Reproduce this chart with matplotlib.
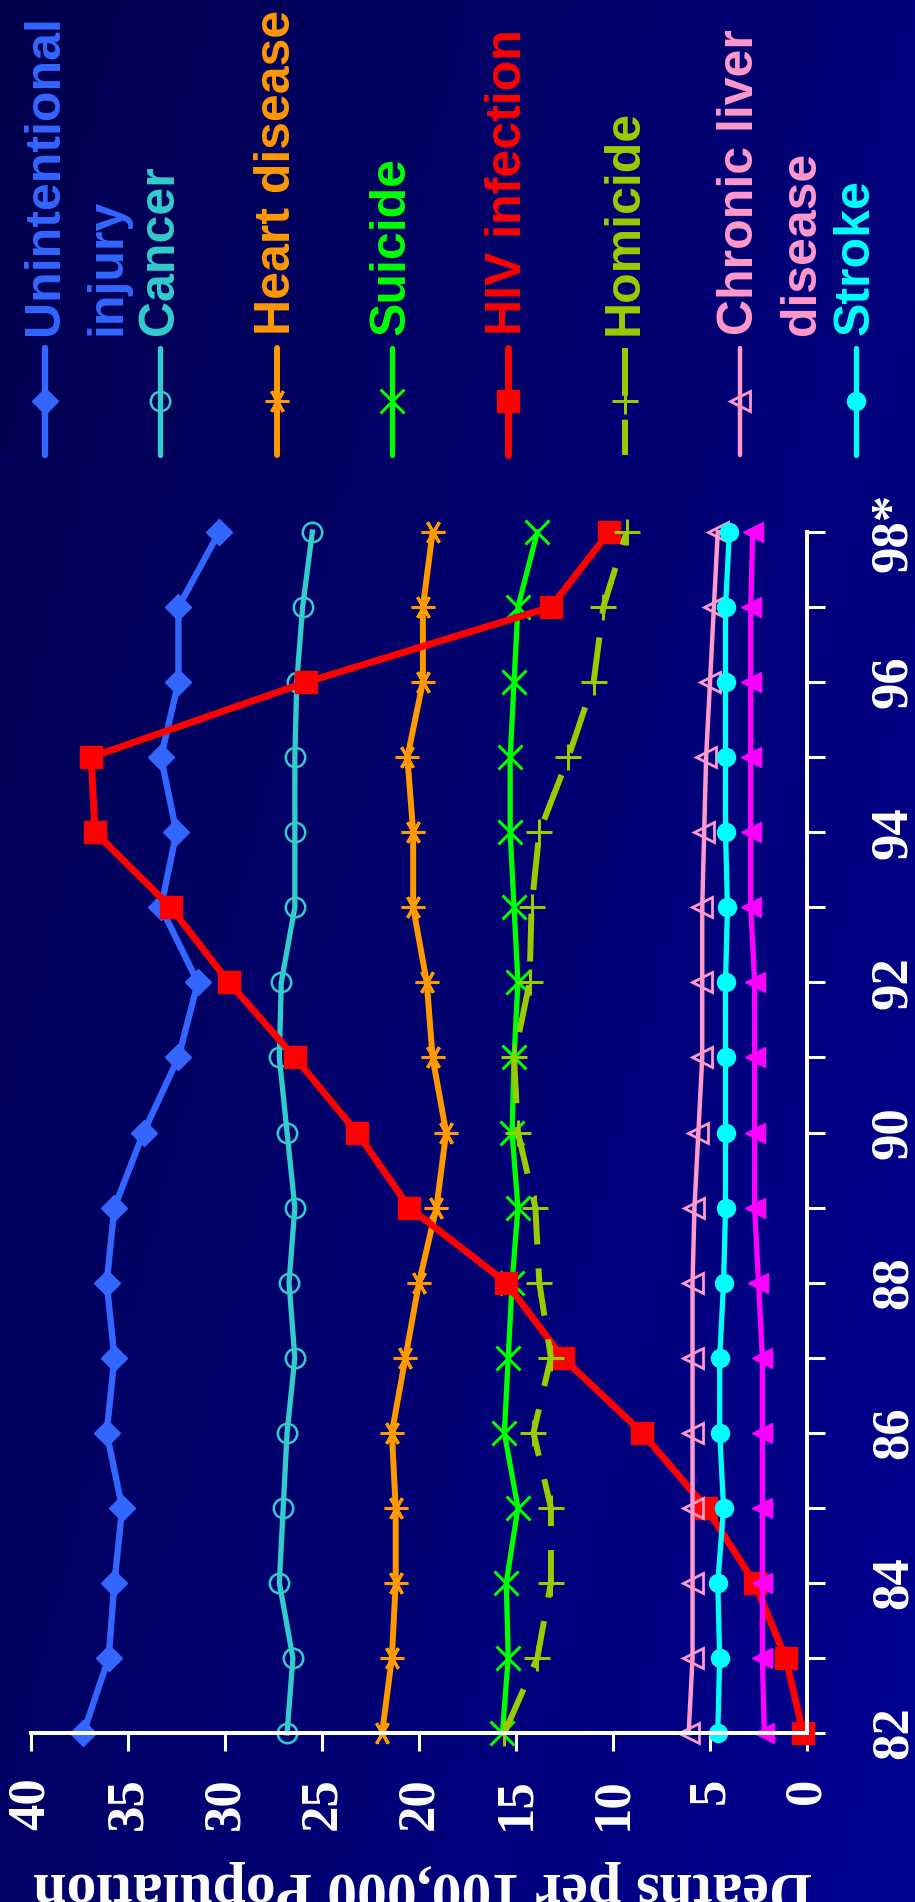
import numpy as np
import matplotlib
matplotlib.use("Agg")
import matplotlib.pyplot as plt

# ---- data -------------------------------------------------------------
years = list(range(82, 99))
year_tick_labels = ["82", "84", "86", "88", "90", "92", "94", "96", "98*"]
value_ticks = [0, 5, 10, 15, 20, 25, 30, 35, 40]

injury = [37.3, 36.0, 35.7, 35.3, 36.1, 35.7, 36.1, 35.7, 34.2, 32.4, 31.4, 33.3, 32.5, 33.3, 32.4, 32.4, 30.3]
cancer = [26.8, 26.5, 27.2, 27.0, 26.8, 26.4, 26.7, 26.4, 26.8, 27.2, 27.1, 26.4, 26.4, 26.4, 26.3, 26.0, 25.5]
heart = [21.9, 21.4, 21.2, 21.2, 21.4, 20.7, 20.0, 19.1, 18.6, 19.3, 19.6, 20.3, 20.3, 20.6, 19.8, 19.8, 19.3]
suicide = [15.7, 15.4, 15.5, 14.9, 15.6, 15.4, 15.2, 14.9, 15.2, 15.1, 14.9, 15.1, 15.3, 15.3, 15.1, 14.9, 13.9]
hiv = [0.2, 1.1, 2.7, 5.2, 8.5, 12.6, 15.5, 20.5, 23.2, 26.4, 29.8, 32.8, 36.7, 36.9, 25.8, 13.2, 10.2]
homicide = [15.6, 13.9, 13.2, 13.2, 14.1, 13.2, 13.8, 14.0, 14.9, 15.1, 14.3, 14.2, 13.8, 12.3, 11.0, 10.5, 9.3]
liver = [6.1, 5.9, 5.9, 5.9, 5.9, 5.9, 5.9, 5.8, 5.6, 5.4, 5.4, 5.4, 5.3, 5.2, 5.0, 4.8, 4.6]
stroke = [4.6, 4.5, 4.6, 4.3, 4.5, 4.5, 4.3, 4.2, 4.2, 4.2, 4.2, 4.1, 4.2, 4.2, 4.2, 4.2, 4.0]
unlisted = [2.2, 2.3, 2.3, 2.3, 2.3, 2.3, 2.5, 2.7, 2.7, 2.7, 2.7, 2.9, 2.9, 2.9, 2.9, 2.9, 2.8]

legend_lines = [["Unintentional", "injury"], ["Cancer"], ["Heart disease"], ["Suicide"],
                ["HIV infection"], ["Homicide"], ["Chronic liver", "disease"], ["Stroke"]]

# ---- styles -----------------------------------------------------------
styles = [
    dict(color="#3366FF", marker="D", ms=13.5, lw=4.6),
    dict(color="#33CCCC", marker="o", ms=14, lw=3.8, mfc="none", mew=1.8),
    dict(color="#FF9900", marker=(6, 2, 90), ms=17, lw=4.3, mew=2.2),
    dict(color="#00FF00", marker="x", ms=17, lw=3.8, mew=2.2),
    dict(color="#FF0000", marker="s", ms=16.5, lw=5),
    dict(color="#99CC00", marker="+", ms=19, lw=4.3, mew=2.2, dashes=(8, 4)),
    dict(color="#FF99CC", marker="<", ms=14.5, lw=3.2, mfc="none", mew=2),
    dict(color="#00FFFF", marker="o", ms=13, lw=3.8),
]
unlisted_style = dict(color="#FF00FF", marker="<", ms=14.5, lw=3.8)
series = [injury, cancer, heart, suicide, hiv, homicide, liver, stroke]

W, H = 915, 1902
fig = plt.figure(figsize=(W / 100, H / 100), dpi=100)

# background gradient
bg = fig.add_axes([0, 0, 1, 1])
gx, gy = np.meshgrid(np.linspace(0, 1, 200), np.linspace(0, 1, 400))
t = 0.65 * gx + 0.35 * gy
img = np.zeros((400, 200, 3))
img[..., 2] = (0x4E + (0x92 - 0x4E) * t) / 255.0
bg.imshow(img, extent=[0, 1, 0, 1], aspect="auto", origin="upper")
bg.set_axis_off()

# main plot, drawn sideways: values run right-to-left, years bottom-to-top
left, right, top, bottom = 31, 807, 532, 1733
ax = fig.add_axes([left / W, (H - bottom) / H, (right - left) / W, (bottom - top) / H])
ax.set_facecolor("none")

for vals, st in zip(series, styles):
    st = dict(st)
    mfc = st.pop("mfc", st["color"])
    ax.plot(vals, years, color=st["color"], marker=st["marker"], ms=st["ms"], lw=st["lw"],
            mfc=mfc, mec=st["color"], mew=st.get("mew", 1), clip_on=False,
            **({"dashes": st["dashes"]} if "dashes" in st else {}))
ax.plot(unlisted, years, color=unlisted_style["color"], marker=unlisted_style["marker"],
        ms=unlisted_style["ms"], lw=unlisted_style["lw"], clip_on=False)

ax.set_xlim(40, 0)
ax.set_ylim(82, 98)
for s in ["top", "left"]:
    ax.spines[s].set_visible(False)
for s in ["bottom", "right"]:
    ax.spines[s].set_color("white")
    ax.spines[s].set_linewidth(2.9)

serif = dict(family="Liberation Serif", weight="bold", size=38, color="white")

ax.set_xticks(value_ticks)
ax.set_xticklabels([str(v) for v in value_ticks], rotation=90, **serif)
ax.tick_params(axis="x", direction="out", length=13, width=2.2, colors="white", pad=19)

ax.yaxis.tick_right()
ax.set_yticks(years[::2])
ax.set_yticks(years[1::2], minor=True)
ax.set_yticklabels(year_tick_labels, rotation=90, va="center", **serif)
ax.tick_params(axis="y", which="both", direction="out", length=13, width=2.2,
               colors="white", pad=32)

fig.text(423 / W, 1 - 1860 / H, "Deaths per 100,000 Population", rotation=180,
         ha="center", va="top", family="Liberation Serif", weight="bold",
         size=43, color="white")

# legend column along the top
lg = fig.add_axes([0, 0, 1, 1])
lg.set_xlim(0, W)
lg.set_ylim(H, 0)
lg.set_axis_off()
lg.patch.set_visible(False)
legend_x = [45, 160, 277, 392, 508, 625, 740, 856]
for x0, st, lines in zip(legend_x, styles, legend_lines):
    st = dict(st)
    mfc = st.pop("mfc", st["color"])
    lg.plot([x0, x0, x0], [348, 401, 455], color=st["color"], marker=st["marker"],
            ms=st["ms"], lw=st["lw"], mfc=mfc, mec=st["color"], mew=st.get("mew", 1),
            markevery=[1], solid_capstyle="round",
            **({"dashes": st["dashes"]} if "dashes" in st else {}))
    for i, txt in enumerate(lines):
        lg.text(x0 + 62 * i, 335, txt, rotation=90, rotation_mode="anchor",
                ha="left", va="center", family="Liberation Sans", weight="bold",
                size=36, color=st["color"])

fig.savefig("out.png", dpi=100, facecolor="#000060")
